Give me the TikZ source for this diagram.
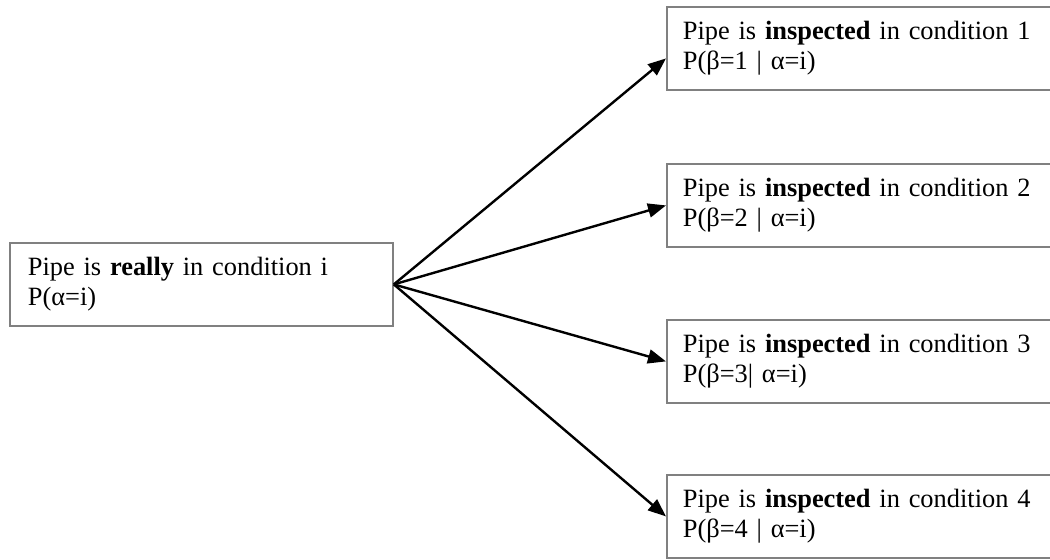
\documentclass[tikz,border=0pt]{standalone}
\usepackage{fontspec}
\setmainfont{Liberation Serif}
\usetikzlibrary{arrows.meta}
\definecolor{boxgray}{RGB}{128,128,128}
\begin{document}
\begin{tikzpicture}[
        x=0.5pt, y=-0.5pt,
        every node/.style={font=\fontsize{13.2pt}{15pt}\selectfont},
        condbox/.style={draw=boxgray, line width=0.9pt, rectangle, anchor=north west, align=left, inner xsep=8pt, minimum height=41.5pt, text width=184pt},
        link/.style={line width=1.2pt, -{Triangle[length=9pt, width=7pt]}}
    ]
        \useasboundingbox (0,0) rectangle (1050,559);
        \clip (0,0) rectangle (1050,559);

        % Trang thai thuc
        \node[condbox, inner xsep=9pt, text width=173.5pt] (real) at (9,242)
            {Pipe is \textbf{really} in condition i\\P(α=i)};

        % Ket qua kiem tra
        \node[condbox] (insp1) at (666,6)
            {Pipe is \textbf{inspected} in condition 1\\P(β=1 | α=i)};
        \node[condbox] (insp2) at (666,163)
            {Pipe is \textbf{inspected} in condition 2\\P(β=2 | α=i)};
        \node[condbox] (insp3) at (666,319)
            {Pipe is \textbf{inspected} in condition 3\\P(β=3| α=i)};
        \node[condbox] (insp4) at (666,474)
            {Pipe is \textbf{inspected} in condition 4\\P(β=4 | α=i)};

        % Cac mui ten
        \draw[link] (real.east) -- ([yshift=-5pt]insp1.west);
        \draw[link] (real.east) -- (insp2.west);
        \draw[link] (real.east) -- (insp3.west);
        \draw[link] (real.east) -- (insp4.west);
    \end{tikzpicture}
\end{document}
